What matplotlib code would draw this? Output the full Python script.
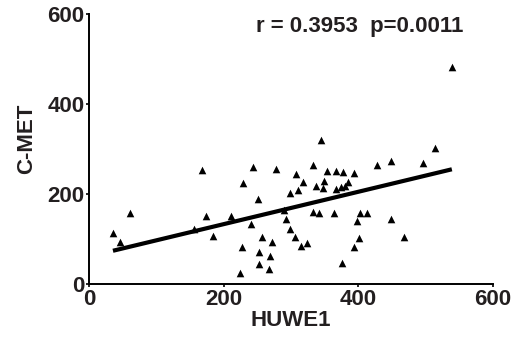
import numpy as np
import matplotlib as mpl
mpl.use('Agg')
import matplotlib.pyplot as plt

plt.rcParams['font.family'] = ['Liberation Sans', 'DejaVu Sans']
plt.rcParams['font.weight'] = 'bold'

# HUWE1 vs C-MET values
huwe1 = [35, 46, 60, 155, 168, 174, 184, 211, 224, 227, 228, 240, 244, 250,
         252, 252, 257, 267, 268, 272, 277, 290, 293, 298, 298, 305, 307, 310,
         315, 318, 324, 344, 514, 332, 353, 367, 377, 393, 428, 448, 496, 337,
         349, 347, 366, 374, 380, 385, 332, 342, 363, 403, 413, 398, 448, 401,
         468, 393, 375, 539]
cmet = [113, 93, 158, 122, 255, 151, 107, 151, 25, 82, 226, 134, 260, 189,
        71, 45, 105, 35, 63, 95, 256, 165, 146, 204, 122, 105, 245, 209,
        85, 227, 91, 320, 304, 266, 252, 251, 250, 248, 265, 275, 269, 218,
        230, 213, 212, 216, 218, 227, 161, 159, 159, 159, 159, 141, 145, 103,
        106, 83, 48, 483]

x_ticks = [0, 200, 400, 600]
y_ticks = [0, 200, 400, 600]
stats_text = 'r = 0.3953  p=0.0011'

txt = '#231f20'

fig = plt.figure(figsize=(5.26, 3.49), dpi=100)
ax = fig.add_axes([0.170, 0.1854, 0.767, 0.7736])

ax.scatter(huwe1, cmet, marker='^', s=30, color='black', linewidths=0, zorder=3)

# linear regression line over the data range
slope, icpt = np.polyfit(huwe1, cmet, 1)
xs = np.array([min(huwe1), max(huwe1)])
ax.plot(xs, slope * xs + icpt, color='black', linewidth=3, solid_capstyle='butt')

ax.set_xlim(0, 600)
ax.set_ylim(0, 600)
ax.set_xticks(x_ticks)
ax.set_yticks(y_ticks)
for s in ['top', 'right']:
    ax.spines[s].set_visible(False)
for s in ['left', 'bottom']:
    ax.spines[s].set_linewidth(1.4)
ax.tick_params(length=2.5, width=1.2, pad=1, labelsize=16, labelcolor=txt)

ax.set_xlabel('HUWE1', fontsize=16, fontweight='bold', color=txt, labelpad=0)
ax.set_ylabel('C-MET', fontsize=16, fontweight='bold', color=txt)
ax.yaxis.set_label_coords(-0.130, 0.54)

ax.text(247, 561, stats_text, fontsize=16, fontweight='bold', color=txt,
        va='baseline', ha='left')

plt.savefig('out.png', dpi=100)
